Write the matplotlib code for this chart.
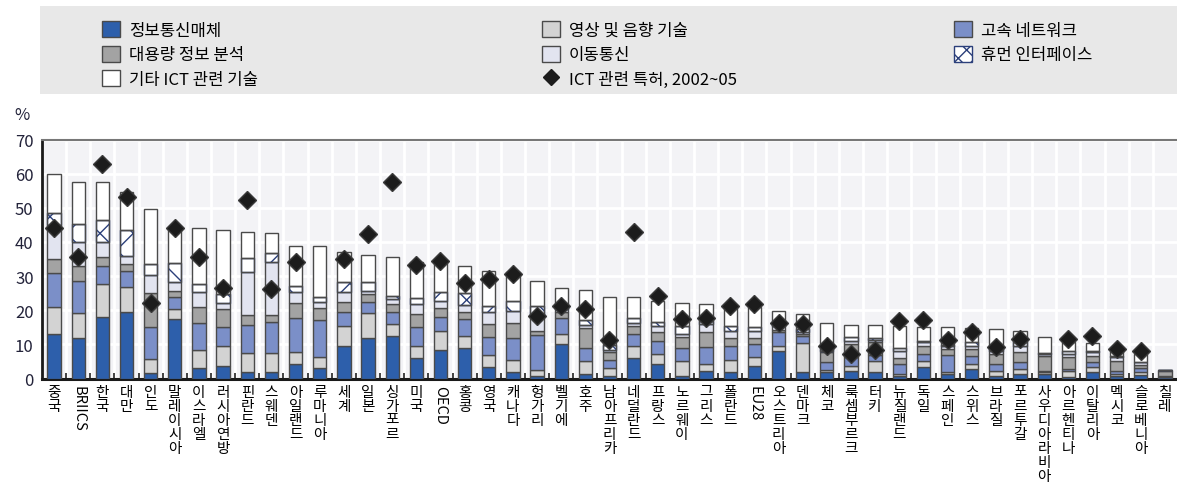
import numpy as np
import matplotlib
matplotlib.use("Agg")
import matplotlib.pyplot as plt
from matplotlib.patches import Rectangle, Patch
from matplotlib.lines import Line2D

plt.rcParams['font.family'] = ['Noto Sans CJK KR', 'DejaVu Sans']
plt.rcParams['hatch.linewidth'] = 1.0

countries = ["중국", "BRIICS", "한국", "대만", "인도", "말레이시아", "이스라엘", "러시아연방",
             "핀란드", "스웨덴", "아일랜드", "루마니아", "세계", "일본", "싱가포르", "미국",
             "OECD", "홍콩", "영국", "캐나다", "헝가리", "벨기에", "호주", "남아프리카",
             "네덜란드", "프랑스", "노르웨이", "그리스", "폴란드", "EU28", "오스트리아", "덴마크",
             "체코", "룩셈부르크", "터키", "뉴질랜드", "독일", "스페인", "스위스", "브라질",
             "포르투갈", "사우디아라비아", "아르헨티나", "이탈리아", "멕시코", "슬로베니아", "칠레"]

# stacked shares (%), bottom -> top
media = [13, 12, 18.1, 19.5, 1.5, 17.5, 3.1, 3.7, 1.8, 1.8, 4.2, 3, 9.6, 11.9, 12.5, 5.9,
         8.4, 8.8, 3.5, 1.8, 0.8, 10.1, 1.4, 0.6, 5.9, 4.2, 0.6, 2.3, 1.8, 3.6, 8.2, 1.8,
         1.8, 2.3, 1.8, 0.6, 3.3, 1.3, 2.8, 0.6, 1.3, 1.3, 0.3, 1.8, 0.8, 1, 0.3]
av_tech = [8, 7.1, 9.5, 7.4, 4.2, 2.8, 5.3, 5.9, 5.6, 5.6, 3.5, 3.2, 5.7, 7.3, 3.5, 3.5,
           5.6, 3.7, 3.4, 3.6, 1.7, 2.9, 3.8, 2.4, 3.5, 3, 4.6, 1.9, 3.7, 2.6, 1.4, 8.6,
           0.8, 1.5, 3.4, 0.7, 1.9, 0.7, 1.4, 1.7, 1.5, 0.7, 2, 1.5, 0.5, 0.8, 0.2]
highspeed = [10, 9.5, 5.4, 4.6, 9.5, 3.7, 7.8, 5.6, 8.2, 9.2, 9.9, 11, 4.3, 3.1, 3.6, 5.6,
             3.9, 4.9, 5.4, 6.4, 10.2, 4.6, 3.8, 2.5, 3.6, 3.9, 3.6, 4.9, 4.1, 3.9, 4.1, 2,
             2.1, 2.4, 1.7, 2.9, 2, 4.9, 2.5, 1.9, 1.9, 0.3, 0.5, 1.6, 1, 1.2, 0.2]
bigdata = [4, 4.4, 2.7, 1.9, 9.8, 1.5, 4.6, 5.1, 2.9, 1.9, 4.5, 3.4, 2.7, 2.5, 2.2, 3.9,
           2.7, 2.2, 3.7, 4.6, 1.3, 2, 5.7, 2.2, 2.3, 2.4, 3.3, 4.6, 2.2, 1.7, 0.6, 0.6,
           3, 3.9, 3.7, 1.7, 2.4, 1.7, 1.9, 3, 3, 4.4, 3.4, 1.6, 2.9, 1, 1.6]
mobile = [10, 7, 4.3, 2.6, 5.3, 2.8, 4.6, 1.9, 12.7, 15.6, 3.1, 1.9, 2.9, 0.9, 1.5, 2.9,
          2.2, 1.9, 3.6, 3.5, 3.9, 0.8, 1, 0.7, 1, 2, 0.9, 2.3, 2.2, 2.2, 1.2, 0.7,
          0.5, 1, 0.7, 2.3, 1, 0.8, 1, 1, 1.7, 0.5, 1, 1.2, 1, 0.7, 0.1]
human_if = [3.5, 5.3, 6.4, 7.5, 3.1, 5.4, 2.2, 2.5, 4.2, 2.7, 1.8, 1.3, 3, 2.5, 1, 1.7,
            2.4, 3.5, 1.7, 2.9, 3.4, 0.9, 1.3, 1.4, 1.3, 1, 2.5, 0.7, 1.5, 1, 0.5, 0.8,
            0.4, 1, 0.5, 0.6, 0.5, 0.4, 1, 0.4, 1.2, 0.4, 1, 0.5, 0.5, 0.2, 0.1]
other = [11.5, 12.3, 11.1, 11.2, 16.3, 10.3, 16.6, 18.7, 7.6, 5.7, 11.9, 14.9, 8.8, 8.1, 11.2, 10.5,
         9, 8, 10.3, 8.5, 7.4, 5.2, 9, 14, 6.2, 6.3, 6.6, 5, 5.3, 5.8, 3.9, 4.4,
         7.7, 3.7, 3.9, 6.5, 3.9, 5.2, 4.1, 5.9, 3.4, 4.5, 2.6, 2.2, 1.6, 2.3, 0.1]
# ICT-related patents share, 2002-05 (nan = not shown)
patents = [44, 35.5, 62.7, 53.3, 22, 44, 35.6, 26.6, 52.4, 26.3, 34, np.nan, 35, 42.4, 57.5, 33.2,
           34.5, 27.9, 29, 30.6, 18.2, 21.3, 20.5, 11.4, 43, 24.1, 17.4, 17.6, 21.3, 21.8, 16.3, 16,
           9.4, 7.2, 8.3, 16.7, 17.2, 11.4, 13.5, 9.1, 11.6, np.nan, 11.6, 12.4, 8.6, 8.2, np.nan]

series = [
    ("정보통신매체", media, "#2d5fab", None),
    ("영상 및 음향 기술", av_tech, "#d3d3d3", None),
    ("고속 네트워크", highspeed, "#7b8fc8", None),
    ("대용량 정보 분석", bigdata, "#a3a3a3", None),
    ("이동통신", mobile, "#e2e4f0", None),
    ("휴먼 인터페이스", human_if, "#ffffff", "x"),
    ("기타 ICT 관련 기술", other, "#ffffff", None),
]

W, H = 1177, 489
fig = plt.figure(figsize=(W / 100, H / 100), dpi=100)
ax = fig.add_axes([42 / W, (H - 379.5) / H, 1 - 42 / W, (379.5 - 140.5) / H])
ax.set_facecolor("#f3f3f6")

x = np.arange(len(countries))
bottom = np.zeros(len(countries))
handles = {}
for name, vals, col, hatch in series:
    vals = np.array(vals, float)
    b = ax.bar(x, vals, 0.55, bottom=bottom, color=col, edgecolor="#4a4a4a",
               linewidth=1.0, hatch=hatch, zorder=3)
    if hatch:
        for p in b:
            p.set_edgecolor("#2b3f7a")
        # redraw outline in gray
        ax.bar(x, vals, 0.55, bottom=bottom, color="none", edgecolor="#4a4a4a",
               linewidth=1.0, zorder=3.1)
    handles[name] = Patch(facecolor=col, edgecolor="#2b3f7a" if hatch else "#4a4a4a",
                          hatch="xx" if hatch else None, linewidth=1.0)
    bottom += vals

ax.plot(x, patents, linestyle="none", marker="D", markersize=9.5, color="#1c1c1c",
        markeredgecolor="#3a3a3a", zorder=5)
handles["ICT 관련 특허, 2002~05"] = Line2D([], [], linestyle="none", marker="D",
                                        markersize=8, color="#1c1c1c")

ax.set_xlim(-0.5, len(countries) - 0.5)
ax.set_ylim(0, 70)
ax.set_yticks(np.arange(0, 71, 10))
ax.tick_params(axis="y", length=0, labelsize=12, labelcolor="#23233a", pad=6)
ax.set_xticks(x)
ax.set_xticks(x[:-1] + 0.5, minor=True)
ax.tick_params(axis="x", which="major", length=0, pad=5)
ax.tick_params(axis="x", which="minor", direction="in", length=4, width=1.2, color="#222")
labels = []
for c in countries:
    if c.isascii():
        labels.append(c)
    else:
        labels.append("\n".join(c))
ax.set_xticklabels(labels, fontsize=10.5, linespacing=1.0, va="top")
for lab, c in zip(ax.get_xticklabels(), countries):
    if c.isascii():
        lab.set_rotation(270)
ax.grid(axis="y", color="white", linewidth=2, zorder=0)
ax.grid(axis="x", which="minor", color="white", linewidth=2, zorder=0)
ax.set_axisbelow(True)
ax.spines["right"].set_visible(False)
ax.spines["top"].set_color("#777777")
ax.spines["top"].set_linewidth(1.5)
ax.spines["left"].set_color("#1a1a1a")
ax.spines["left"].set_linewidth(2)
ax.spines["bottom"].set_color("#1a1a1a")
ax.spines["bottom"].set_linewidth(2.2)

fig.text(14 / W, (H - 115) / H, "%", fontsize=12, color="#23233a", va="center")

# legend background
fig.patches.append(Rectangle((40 / W, (H - 95) / H), 1 - 40 / W, 88 / H,
                             transform=fig.transFigure, facecolor="#e8e8e8",
                             edgecolor="none", zorder=0))
cols = [
    (["정보통신매체", "대용량 정보 분석", "기타 ICT 관련 기술"], 102),
    (["영상 및 음향 기술", "이동통신", "ICT 관련 특허, 2002~05"], 542),
    (["고속 네트워크", "휴먼 인터페이스"], 954),
]
for names, px in cols:
    fig.legend([handles[n] for n in names], names, loc="upper left",
               bbox_to_anchor=(px / W, (H - 22) / H), frameon=False, fontsize=12,
               handlelength=1.1, handleheight=1.1, labelspacing=0.42,
               handletextpad=0.5, borderpad=0, borderaxespad=0)

fig.savefig("out.png", dpi=100)
